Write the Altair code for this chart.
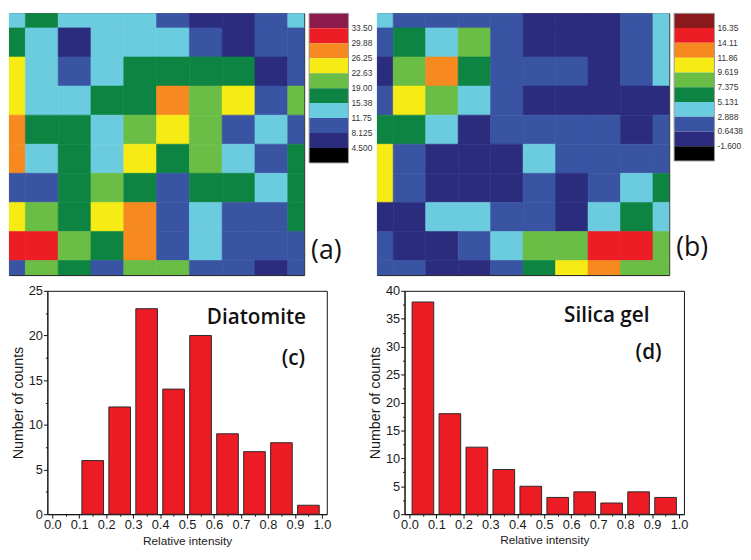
import altair as alt
import pandas as pd

# ---------------- data ----------------
# (a) Diatomite map, rows top -> bottom, 10 x 10 grid of intensities
grid_a = [
    [13.5, 17.0, 13.5, 13.5, 13.5, 10.0, 6.0, 6.0, 10.0, 13.5],
    [17.0, 13.5, 6.0, 13.5, 13.5, 13.5, 10.0, 6.0, 10.0, 10.0],
    [24.5, 13.5, 10.0, 13.5, 17.0, 17.0, 17.0, 17.0, 6.0, 10.0],
    [24.5, 13.5, 13.5, 17.0, 17.0, 28.0, 21.0, 24.5, 10.0, 21.0],
    [28.0, 17.0, 17.0, 13.5, 21.0, 24.5, 21.0, 10.0, 13.5, 10.0],
    [28.0, 13.5, 17.0, 13.5, 24.5, 17.0, 21.0, 13.5, 10.0, 17.0],
    [10.0, 10.0, 17.0, 21.0, 17.0, 10.0, 17.0, 17.0, 13.5, 17.0],
    [24.5, 21.0, 17.0, 24.5, 28.0, 10.0, 13.5, 10.0, 10.0, 17.0],
    [31.5, 31.5, 21.0, 17.0, 28.0, 10.0, 13.5, 10.0, 10.0, 10.0],
    [10.0, 21.0, 17.0, 10.0, 21.0, 21.0, 10.0, 10.0, 6.0, 10.0],
]
# (b) Silica gel map
grid_b = [
    [4.0, 1.8, 1.8, 1.8, 1.8, -0.5, -0.5, -0.5, 1.8, 4.0],
    [1.8, 6.3, 4.0, 8.5, 1.8, -0.5, -0.5, -0.5, 1.8, 4.0],
    [-0.5, 8.5, 13.0, 6.3, 1.8, 1.8, 1.8, -0.5, 1.8, 4.0],
    [1.8, 10.7, 8.5, 4.0, 1.8, -0.5, -0.5, -0.5, -0.5, -0.5],
    [6.3, 6.3, 4.0, -0.5, 1.8, 1.8, 1.8, 1.8, -0.5, 1.8],
    [10.7, 1.8, -0.5, -0.5, -0.5, 4.0, 1.8, 1.8, 1.8, 1.8],
    [10.7, 1.8, -0.5, -0.5, -0.5, 1.8, -0.5, 1.8, 4.0, 6.3],
    [-0.5, -0.5, 4.0, 4.0, 1.8, 1.8, -0.5, 4.0, 6.3, 4.0],
    [1.8, -0.5, -0.5, 1.8, 4.0, 8.5, 8.5, 15.2, 15.2, 8.5],
    [1.8, 1.8, -0.5, -0.5, 1.8, 6.3, 10.7, 13.0, 8.5, 8.5],
]

thresholds_a = [4.5, 8.125, 11.75, 15.38, 19.0, 22.63, 26.25, 29.88, 33.5]
labels_a = ["33.50", "29.88", "26.25", "22.63", "19.00", "15.38", "11.75", "8.125", "4.500"]
thresholds_b = [-1.6, 0.6438, 2.888, 5.131, 7.375, 9.619, 11.86, 14.11, 16.35]
labels_b = ["16.35", "14.11", "11.86", "9.619", "7.375", "5.131", "2.888", "0.6438", "-1.600"]

# colours low -> high
palette_a = ["#000000", "#2B2C7E", "#3A54A4", "#6CCCDF", "#0E8443",
             "#6ABD45", "#F6EB14", "#F6891F", "#EC1D24", "#8A1B4B"]
palette_b = ["#000000", "#2B2C7E", "#3A54A4", "#6CCCDF", "#0E8443",
             "#6ABD45", "#F6EB14", "#F6891F", "#EC1D24", "#8B1A1E"]

bin_centers = [0.05, 0.15, 0.25, 0.35, 0.45, 0.55, 0.65, 0.75, 0.85, 0.95]
counts_c = [0, 6, 12, 23, 14, 20, 9, 7, 8, 1]
counts_d = [38, 18, 12, 8, 5, 3, 4, 2, 4, 3]

LABEL_FONT = "Liberation Sans"


# ---------------- helpers ----------------
def heatmap(grid, thresholds, palette, w, h):
    recs = []
    for r, row in enumerate(grid):
        for c, v in enumerate(row):
            recs.append({"xa": c - 0.5, "xb": c + 0.5, "ya": r - 0.5, "yb": r + 0.5, "v": v})
    df = pd.DataFrame(recs)
    cscale = alt.Scale(type="threshold", domain=thresholds, range=palette)
    return alt.Chart(df).mark_rect(clip=True, strokeWidth=0.6).encode(
        x=alt.X("xa:Q", scale=alt.Scale(domain=[0, 9], nice=False, zero=False), axis=None),
        x2="xb:Q",
        y=alt.Y("ya:Q", scale=alt.Scale(domain=[0, 9], nice=False, zero=False, reverse=True), axis=None),
        y2="yb:Q",
        color=alt.Color("v:Q", scale=cscale, legend=None),
        stroke=alt.Stroke("v:Q", scale=cscale, legend=None),
    ).properties(width=w, height=h, view=alt.ViewBackground(stroke="#1a1a1a", strokeWidth=1))


def colorbar(palette, labels, tag, w_units, h_units, w, h):
    boxes = pd.DataFrame({"top": list(range(10)), "bottom": list(range(1, 11)),
                          "colour": palette[::-1]})
    xs = alt.Scale(domain=[0, w_units], nice=False, zero=False)
    ys = alt.Scale(domain=[0, h_units], nice=False, zero=False, reverse=True)
    rects = alt.Chart(boxes).mark_rect().encode(
        x=alt.XDatum(0, type="quantitative", scale=xs, axis=None),
        x2=alt.X2Datum(1),
        y=alt.Y("top:Q", scale=ys, axis=None),
        y2="bottom:Q",
        color=alt.Color("colour:N", scale=None),
    )
    outline = alt.Chart(pd.DataFrame({"k": [0]})).mark_rect(
        fillOpacity=0, stroke="#9a9a9a", strokeWidth=1).encode(
        x=alt.XDatum(0, axis=None), x2=alt.X2Datum(1),
        y=alt.YDatum(0, axis=None), y2=alt.Y2Datum(10))
    labs = pd.DataFrame({"pos": list(range(1, 10)), "lab": labels})
    texts = alt.Chart(labs).mark_text(
        align="left", baseline="middle", dx=3, font=LABEL_FONT, fontSize=8.5, color="#333333"
    ).encode(x=alt.XDatum(1, axis=None), y=alt.Y("pos:Q", axis=None), text="lab:N")
    tagt = alt.Chart(pd.DataFrame({"k": [0]})).mark_text(
        text=tag, align="left", baseline="middle", font="Open Sans", fontSize=27, color="#111111"
    ).encode(x=alt.XDatum(0.05, axis=None), y=alt.YDatum(15.9, axis=None))
    return alt.layer(rects, outline, texts, tagt).properties(
        width=w, height=h, view=alt.ViewBackground(strokeWidth=0))


def histogram(counts, ymax, name, name_xy, tag, tag_xy, x_title_pad):
    df = pd.DataFrame({"centre": bin_centers, "count": counts})
    df = df[df["count"] > 0]
    x_vals = [round(0.05 * k, 2) for k in range(21)]
    y_vals = [2.5 * k for k in range(int(ymax / 2.5) + 1)]
    common = dict(domainColor="#111111", domainWidth=1, tickColor="#111111", tickWidth=1,
                  labelFont=LABEL_FONT, labelFontSize=13, labelColor="#1a1a1a",
                  labelPadding=1, labelOverlap=False, labelFlush=False, grid=False,
                  titleFont=LABEL_FONT, titleFontWeight="normal", titleColor="#1a1a1a")
    xaxis = alt.Axis(
        values=x_vals,
        labelExpr="round(datum.value*20) % 2 == 0 ? format(datum.value, '.1f') : ''",
        tickSize={"condition": {"test": "round(datum.value*20) % 2 == 0", "value": 4}, "value": 2},
        title="Relative intensity", titleFontSize=12, titlePadding=x_title_pad, **common)
    yaxis = alt.Axis(
        values=y_vals,
        labelExpr="round(datum.value/2.5) % 2 == 0 ? format(datum.value, 'd') : ''",
        tickSize={"condition": {"test": "round(datum.value/2.5) % 2 == 0", "value": 4}, "value": 2},
        title="Number of counts", titleFontSize=14.5, titlePadding=3, **common)
    xs = alt.Scale(domain=[0, 1], nice=False, zero=False)
    ys = alt.Scale(domain=[0, ymax], nice=False)
    bars = alt.Chart(df).mark_bar(size=22, fill="#ED1C24", stroke="#2a2a2a", strokeWidth=1).encode(
        x=alt.X("centre:Q", scale=xs, axis=xaxis),
        y=alt.Y("count:Q", scale=ys, axis=yaxis),
    )
    one = pd.DataFrame({"k": [0]})
    name_t = alt.Chart(one).mark_text(
        text=name, font="Open Sans", fontSize=21, fontWeight=600, color="#111111",
        align="center", baseline="middle").encode(
        x=alt.XDatum(name_xy[0], type="quantitative", scale=xs, axis=xaxis),
        y=alt.YDatum(name_xy[1], type="quantitative", scale=ys, axis=yaxis))
    tag_t = alt.Chart(one).mark_text(
        text=tag, font="Open Sans", fontSize=21, fontWeight=600, color="#111111",
        align="center", baseline="middle").encode(
        x=alt.XDatum(tag_xy[0], type="quantitative", scale=xs, axis=xaxis),
        y=alt.YDatum(tag_xy[1], type="quantitative", scale=ys, axis=yaxis))
    return alt.layer(bars, name_t, tag_t).properties(
        width=284, height=227, view=alt.ViewBackground(stroke="#111111", strokeWidth=1))


def spacer(h):
    # empty 1-px panel so that the bottom row starts at the same left edge as the top row
    return alt.Chart(pd.DataFrame({"k": []})).mark_point().encode(
        x=alt.X("k:Q", axis=None), y=alt.Y("k:Q", axis=None)
    ).properties(width=1, height=h, view=alt.ViewBackground(strokeWidth=0))


# ---------------- panels ----------------
heat_a = heatmap(grid_a, thresholds_a, palette_a, 300, 266)
heat_b = heatmap(grid_b, thresholds_b, palette_b, 297, 266)
cbar_a = colorbar(palette_a, labels_a, "(a)", 62 / 40, 266 / 15.2, 62, 266)
cbar_b = colorbar(palette_b, labels_b, "(b)", 60 / 41, 266 / 15.0, 60, 266)

hist_c = histogram(counts_c, 25, "Diatomite", (0.757, 22.0), "(c)", (0.894, 17.4), 4)
hist_d = histogram(counts_d, 40, "Silica gel", (0.732, 35.4), "(d)", (0.887, 28.8), 3)

top = alt.hconcat(heat_a, cbar_a, heat_b, cbar_b, spacing=3).resolve_scale(
    x="independent", y="independent", color="independent", stroke="independent")
hists = alt.hconcat(hist_c, hist_d, spacing=36).resolve_scale(x="independent", y="independent")
bottom = alt.hconcat(spacer(227), hists, spacing=0).resolve_scale(x="independent", y="independent")

chart = alt.concat(top, bottom, columns=1, spacing=8, align="none").resolve_scale(
    x="independent", y="independent", color="independent", stroke="independent"
).properties(padding=0, background="white").configure_view(strokeWidth=0)

chart.save("out.html", embed_options={"renderer": "svg", "actions": False})
